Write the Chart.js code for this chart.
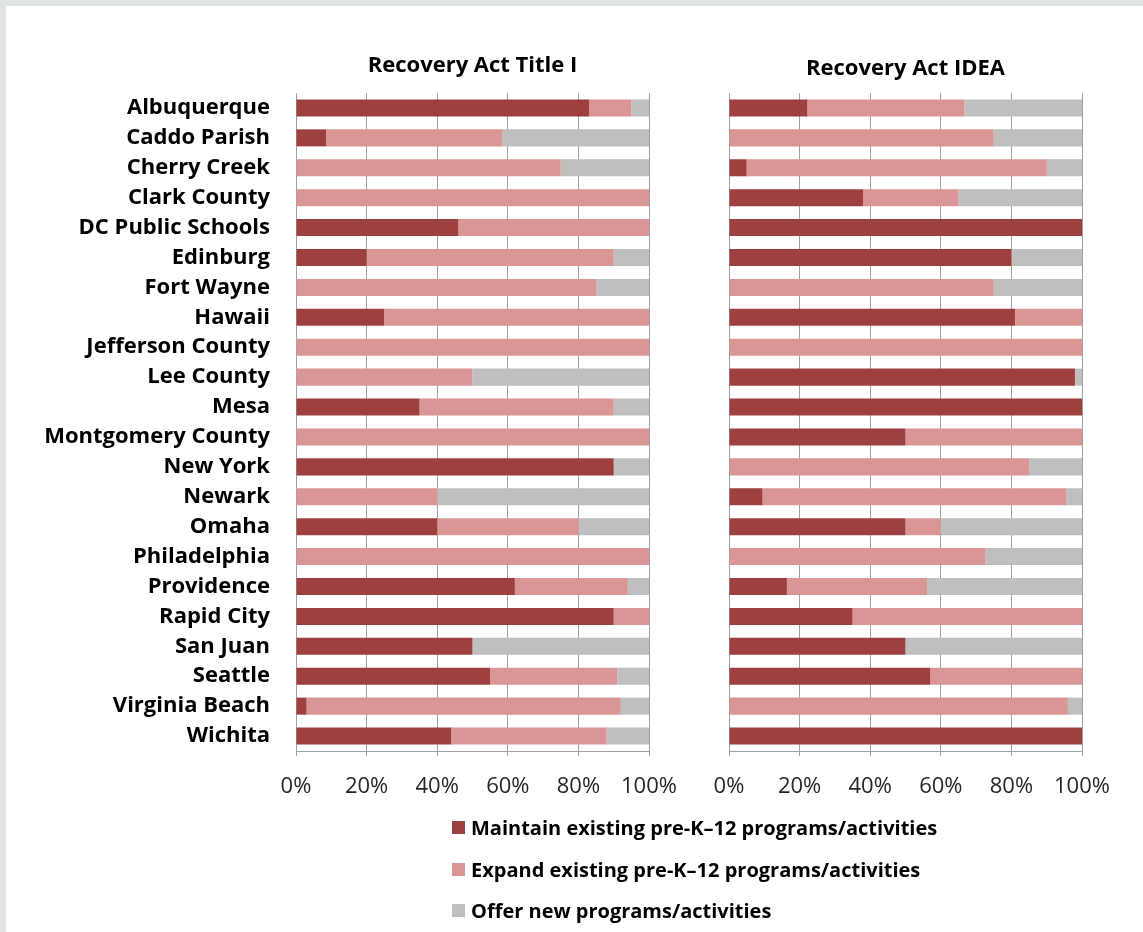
<!DOCTYPE html>
<html>
<head>
<meta charset="utf-8">
<script src="https://cdn.jsdelivr.net/npm/chart.js@4.4.1/dist/chart.umd.min.js"></script>
<style>
  body { margin: 0; background: #dde4e2; width: 1143px; height: 932px; overflow: hidden; }
  #panel { position: absolute; left: 6px; top: 6px; width: 1137px; height: 926px; background: #fff; }
  canvas { position: absolute; top: 0; }
  #left { left: 0; }
  #right { left: 689px; }
  #legend { position: absolute; left: 452px; top: 807px; font: bold 20px "Open Sans", sans-serif; color: #000; }
  .item { height: 41.5px; display: flex; align-items: center; }
  .box { width: 13px; height: 13px; margin-right: 6px; }
</style>
</head>
<body>
<div id="panel"></div>
<canvas id="left" width="700" height="810"></canvas>
<canvas id="right" width="454" height="810"></canvas>
<div id="legend"></div>
<script>
const cities = ["Albuquerque", "Caddo Parish", "Cherry Creek", "Clark County", "DC Public Schools",
  "Edinburg", "Fort Wayne", "Hawaii", "Jefferson County", "Lee County", "Mesa",
  "Montgomery County", "New York", "Newark", "Omaha", "Philadelphia", "Providence",
  "Rapid City", "San Juan", "Seattle", "Virginia Beach", "Wichita"];

const seriesNames = ["Maintain existing pre-K\u201312 programs/activities",
  "Expand existing pre-K\u201312 programs/activities",
  "Offer new programs/activities"];
const seriesColors = ["#9e4040", "#d99694", "#bfbfbf"];

// Recovery Act Title I (%)
const titleMaintain = [83, 8.5, 0, 0, 46, 20, 0, 25, 0, 0, 35, 0, 90, 0, 40, 0, 62, 90, 50, 55, 3, 44];
const titleExpand = [12, 50, 75, 100, 54, 70, 85, 75, 100, 50, 55, 100, 0, 40, 40, 100, 32, 10, 0, 36, 89, 44];
const titleOffer = [5, 41.5, 25, 0, 0, 10, 15, 0, 0, 50, 10, 0, 10, 60, 20, 0, 6, 0, 50, 9, 8, 12];

// Recovery Act IDEA (%)
const ideaMaintain = [22.2, 0, 5, 38, 100, 80, 0, 81, 0, 98, 100, 50, 0, 9.5, 50, 0, 16.4, 35, 50, 57, 0, 100];
const ideaExpand = [44.5, 75, 85, 27, 0, 0, 75, 19, 100, 0, 0, 50, 85, 86, 10, 72.7, 39.7, 65, 0, 43, 96, 0];
const ideaOffer = [33.3, 25, 10, 35, 0, 20, 25, 0, 0, 2, 0, 0, 15, 4.5, 40, 27.3, 43.9, 0, 50, 0, 4, 0];

const xTicks = [0, 20, 40, 60, 80, 100];

function makeDatasets(a, b, c) {
  return [a, b, c].map((d, i) => ({
    label: seriesNames[i],
    data: d,
    backgroundColor: seriesColors[i],
    borderWidth: 0,
    barPercentage: 0.57,
    categoryPercentage: 1.0
  }));
}

function makeChart(id, title, datasets, showLabels, yWidth, padRight, titlePad) {
  return new Chart(document.getElementById(id), {
    type: "bar",
    data: { labels: cities, datasets: datasets },
    options: {
      indexAxis: "y",
      responsive: false,
      animation: false,
      layout: { padding: { left: 0, right: padRight, top: 0, bottom: 0 } },
      plugins: {
        legend: { display: false },
        tooltip: { enabled: false },
        title: {
          display: true,
          text: title,
          fullSize: false,
          color: "#000",
          font: { family: "Open Sans", size: 22, weight: "bold" },
          padding: titlePad
        }
      },
      scales: {
        x: {
          stacked: true,
          min: 0,
          max: 100,
          afterBuildTicks: s => { s.ticks = xTicks.map(v => ({ value: v })); },
          afterFit: s => { s.height = 59; },
          grid: { color: "#a0a0a0", lineWidth: 1, drawTicks: true, tickLength: 5 },
          border: { display: true, color: "#a0a0a0" },
          ticks: {
            padding: 18,
            color: "#262626",
            font: { family: "Open Sans", size: 22 },
            callback: v => v + "%"
          }
        },
        y: {
          stacked: true,
          afterFit: s => { s.width = yWidth; },
          grid: { display: false, drawTicks: false },
          border: { display: true, color: "#a0a0a0" },
          ticks: {
            display: showLabels,
            padding: 26,
            color: "#000",
            font: { family: "Open Sans", size: 22, weight: "bold" }
          }
        }
      }
    }
  });
}

makeChart("left", "Recovery Act Title I", makeDatasets(titleMaintain, titleExpand, titleOffer),
  true, 296, 51, { top: 53, bottom: 13.6 });
makeChart("right", "Recovery Act IDEA", makeDatasets(ideaMaintain, ideaExpand, ideaOffer),
  false, 40, 61, { top: 56, bottom: 10.6 });

const legend = document.getElementById("legend");
seriesNames.forEach((name, i) => {
  const row = document.createElement("div");
  row.className = "item";
  const box = document.createElement("span");
  box.className = "box";
  box.style.background = seriesColors[i];
  const txt = document.createElement("span");
  txt.textContent = name;
  row.appendChild(box);
  row.appendChild(txt);
  legend.appendChild(row);
});
</script>
</body>
</html>
